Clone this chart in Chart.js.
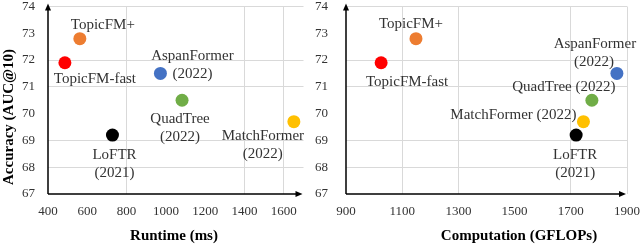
<!DOCTYPE html>
<html>
<head>
<meta charset="utf-8">
<script src="https://cdn.jsdelivr.net/npm/chart.js@4.4.1/dist/chart.umd.min.js"></script>
<style>
  html, body { margin: 0; padding: 0; background: #fff; }
  #wrap { position: relative; width: 640px; height: 245px; }
  .box { position: absolute; top: 0; height: 245px; }
</style>
</head>
<body>
<div id="wrap">
  <div class="box" style="left:0;width:310px"><canvas id="runtimeChart" width="310" height="245"></canvas></div>
  <div class="box" style="left:310px;width:330px"><canvas id="flopsChart" width="330" height="245"></canvas></div>
</div>
<script>
// data
const methods = ['TopicFM-fast', 'TopicFM+', 'AspanFormer', 'QuadTree', 'LoFTR', 'MatchFormer'];
const years = ['', '', '(2022)', '(2022)', '(2021)', '(2022)'];
const runtimeMs = [486, 562, 972, 1082, 728, 1651];
const computationGflops = [1025, 1149, 1864, 1775, 1719, 1745];
const accuracyAuc10 = [71.9, 72.8, 71.5, 70.5, 69.2, 69.7];
const runtimeTicks = [400, 600, 800, 1000, 1200, 1400, 1600];
const gflopsTicks = [900, 1100, 1300, 1500, 1700, 1900];
const accuracyTicks = [67, 68, 69, 70, 71, 72, 73, 74];

const pointColors = ['#ff0000', '#ed7d31', '#4472c4', '#70ad47', '#000000', '#ffc000'];
const serif = "'Liberation Serif', 'Times New Roman', serif";
const textColor = '#333333';
const gridColor = '#d9d9d9';

// where each point's label sits, relative to the point (px)
const runtimeLabelSpots = [
    [['name', 30, 16]],
    [['name', 23, -14]],
    [['name', 32, -17], ['year', 32, 1]],
    [['name', -2, 19], ['year', -2, 37]],
    [['name', 2, 20], ['year', 2, 38]],
    [['name', -31, 14], ['year', -31, 32]]
];
const flopsLabelSpots = [
    [['name', 26, 19]],
    [['name', -5, -15]],
    [['name', -22, -29], ['year', -23, -11]],
    [['both', -28, -13]],
    [['name', -1, 20], ['year', -1, 38]],
    [['both', -70, -7]]
];

const pointLabels = {
    id: 'pointLabels',
    afterDatasetsDraw(chart, args, opts) {
        const ctx = chart.ctx;
        ctx.save();
        ctx.font = '15px ' + serif;
        ctx.fillStyle = textColor;
        ctx.textAlign = 'center';
        ctx.textBaseline = 'middle';
        opts.spots.forEach((lines, i) => {
            const pt = chart.getDatasetMeta(i).data[0];
            lines.forEach(([kind, dx, dy]) => {
                let txt = methods[i];
                if (kind === 'year') txt = years[i];
                if (kind === 'both') txt = methods[i] + ' ' + years[i];
                ctx.fillText(txt, pt.x + dx, pt.y + dy);
            });
        });
        ctx.restore();
    }
};

const arrowAxes = {
    id: 'arrowAxes',
    afterDraw(chart) {
        const ctx = chart.ctx;
        const a = chart.chartArea;
        ctx.save();
        ctx.strokeStyle = '#000';
        ctx.fillStyle = '#000';
        ctx.lineWidth = 1.5;
        ctx.beginPath();
        ctx.moveTo(a.left, a.bottom);
        ctx.lineTo(a.left, a.top);
        ctx.moveTo(a.left, a.bottom);
        ctx.lineTo(a.right - 4, a.bottom);
        ctx.stroke();
        // arrow heads
        ctx.beginPath();
        ctx.moveTo(a.left, a.top - 3);
        ctx.lineTo(a.left - 3, a.top + 4);
        ctx.lineTo(a.left + 3, a.top + 4);
        ctx.closePath();
        ctx.fill();
        ctx.beginPath();
        ctx.moveTo(a.right - 1, a.bottom);
        ctx.lineTo(a.right - 8, a.bottom - 3);
        ctx.lineTo(a.right - 8, a.bottom + 3);
        ctx.closePath();
        ctx.fill();
        ctx.restore();
    }
};

const axisTitles = {
    id: 'axisTitles',
    afterDraw(chart, args, opts) {
        const ctx = chart.ctx;
        ctx.save();
        ctx.font = 'bold 15px ' + serif;
        ctx.fillStyle = '#000';
        ctx.textAlign = 'center';
        ctx.textBaseline = 'middle';
        ctx.fillText(opts.xText, opts.xAt[0], opts.xAt[1]);
        if (opts.yText) {
            ctx.translate(opts.yAt[0], opts.yAt[1]);
            ctx.rotate(-Math.PI / 2);
            ctx.fillText(opts.yText, 0, 0);
        }
        ctx.restore();
    }
};

const makeChart = (canvasId, xs, xTicks, xMin, xMax, xGrid, cfg) => {
    const yGrid = [68, 69, 71, 72, 74];
    const datasets = methods.map((m, i) => ({
        label: m,
        data: [{ x: xs[i], y: accuracyAuc10[i] }],
        backgroundColor: pointColors[i],
        borderWidth: 0,
        pointRadius: 6.5,
        pointHoverRadius: 6.5,
        clip: false
    }));

    return new Chart(document.getElementById(canvasId), {
        type: 'scatter',
        data: { datasets },
        plugins: [pointLabels, arrowAxes, axisTitles],
        options: {
            responsive: false,
            animation: false,
            layout: { padding: { left: 0, right: cfg.padRight, top: 5, bottom: 0 } },
            plugins: {
                legend: { display: false },
                tooltip: { enabled: false },
                pointLabels: { spots: cfg.spots },
                axisTitles: cfg.titles
            },
            scales: {
                x: {
                    type: 'linear',
                    min: xMin,
                    max: xMax,
                    afterBuildTicks: s => { s.ticks = xTicks.map(v => ({ value: v })); },
                    afterFit: s => { s.height = 51; s.paddingLeft = 0; s.paddingRight = 0; },
                    border: { display: false },
                    grid: {
                        drawTicks: false,
                        color: c => xGrid.includes(c.tick && c.tick.value) ? gridColor : 'rgba(0,0,0,0)'
                    },
                    ticks: {
                        padding: 10,
                        maxRotation: 0,
                        autoSkip: false,
                        color: textColor,
                        font: { family: serif, size: 13 },
                        callback: v => String(v)
                    }
                },
                y: {
                    min: 67,
                    max: 74,
                    afterBuildTicks: s => { s.ticks = accuracyTicks.map(v => ({ value: v })); },
                    afterFit: s => { s.width = cfg.yWidth; s.paddingTop = 0; s.paddingBottom = 0; },
                    border: { display: false },
                    grid: {
                        drawTicks: false,
                        color: c => yGrid.includes(c.tick && c.tick.value) ? gridColor : 'rgba(0,0,0,0)'
                    },
                    ticks: {
                        padding: cfg.yPad,
                        color: textColor,
                        font: { family: serif, size: 13 },
                        callback: v => String(v)
                    }
                }
            }
        }
    });
};

makeChart('runtimeChart', runtimeMs, runtimeTicks, 400, 1700, [800, 1400, 1600], {
    padRight: 5,
    yWidth: 48,
    yPad: 13,
    spots: runtimeLabelSpots,
    titles: { xText: 'Runtime (ms)', xAt: [174, 236], yText: 'Accuracy (AUC@10)', yAt: [9, 117] }
});

makeChart('flopsChart', computationGflops, gflopsTicks, 900, 1900, [1100, 1300, 1700, 1900], {
    padRight: 13,
    yWidth: 36,
    yPad: 18,
    spots: flopsLabelSpots,
    titles: { xText: 'Computation (GFLOPs)', xAt: [209, 236], yText: null }
});
</script>
</body>
</html>
